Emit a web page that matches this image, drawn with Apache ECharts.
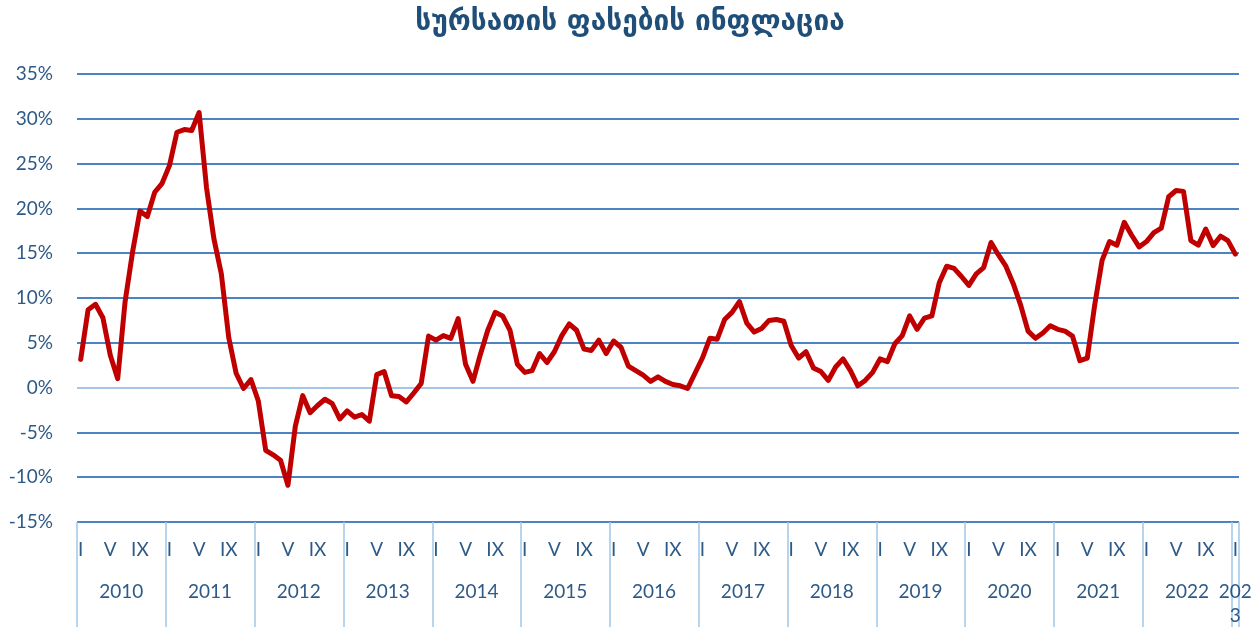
<!DOCTYPE html>
<html>
<head>
<meta charset="utf-8">
<title>სურსათის ფასების ინფლაცია</title>
<script src="https://cdn.jsdelivr.net/npm/echarts@6/dist/echarts.min.js"></script>
<style>
  html, body { margin: 0; padding: 0; background: #fff; }
  #chart { width: 1260px; height: 628px; }
</style>
</head>
<body>
<div id="chart"></div>
<script>
// year blocks on the category axis (2023 has only January)
const years = [2010, 2011, 2012, 2013, 2014, 2015, 2016, 2017, 2018, 2019, 2020, 2021, 2022, 2023];
// month tick labels shown inside each year (roman numerals, others left blank)
const monthTicks = ['I', '', '', '', 'V', '', '', '', 'IX', '', '', ''];

// food price inflation, y/y %, Jan 2010 .. Jan 2023
const inflation = [
  3.15, 8.7, 9.3, 7.8, 3.6, 1.0, 9.6, 15.1, 19.7, 19.1, 21.8, 22.8,
  24.8, 28.5, 28.8, 28.7, 30.7, 22.3, 16.6, 12.7, 5.6, 1.6, -0.1, 0.9,
  -1.5, -7.0, -7.5, -8.1, -10.9, -4.3, -0.9, -2.8, -2.0, -1.3, -1.8, -3.5,
  -2.6, -3.3, -3.0, -3.75, 1.45, 1.8, -0.9, -1.0, -1.6, -0.6, 0.45, 5.75,
  5.3, 5.8, 5.5, 7.7, 2.6, 0.7, 3.7, 6.4, 8.4, 8.0, 6.4, 2.6,
  1.7, 1.9, 3.8, 2.8, 4.0, 5.8, 7.1, 6.4, 4.3, 4.15, 5.3, 3.8,
  5.2, 4.5, 2.4, 1.9, 1.4, 0.7, 1.2, 0.7, 0.35, 0.2, -0.1, 1.6,
  3.3, 5.5, 5.4, 7.6, 8.4, 9.6, 7.2, 6.2, 6.6, 7.5, 7.6, 7.4,
  4.7, 3.3, 4.0, 2.2, 1.8, 0.8, 2.3, 3.2, 1.9, 0.2, 0.8, 1.7,
  3.2, 2.9, 4.9, 5.8, 8.0, 6.5, 7.75, 8.0, 11.7, 13.55, 13.3, 12.4,
  11.4, 12.7, 13.4, 16.2, 14.8, 13.55, 11.6, 9.2, 6.3, 5.5, 6.1, 6.9,
  6.5, 6.3, 5.75, 3.0, 3.3, 9.2, 14.2, 16.3, 15.9, 18.45, 17.0, 15.7,
  16.3, 17.3, 17.8, 21.3, 22.0, 21.9, 16.4, 15.9, 17.7, 15.85, 16.9, 16.4,
  14.9
];

const categories = [];
const yearOf = [];
inflation.forEach(function (v, i) {
  categories.push(years[0] + '-' + (i % 12 + 1));
  yearOf.push(years[Math.floor(i / 12)]);
});

const labelColor = '#2e5a87';
const gridBlue = '#4a84c4';
const lightBlue = '#a3c6e8';
const font = 'Lato, "Open Sans", sans-serif';

// zero line is drawn lighter than the others
const splitColors = [];
for (let v = -15; v <= 35; v += 5) splitColors.push(v === 0 ? lightBlue : gridBlue);

const chart = echarts.init(document.getElementById('chart'), null, { renderer: 'canvas' });
chart.setOption({
  animation: false,
  title: {
    text: 'სურსათის ფასების ინფლაცია',
    left: 'center',
    top: 4,
    textStyle: { fontFamily: '"DejaVu Sans", sans-serif', fontSize: 28, fontWeight: 'bold', color: '#1f4e79' }
  },
  grid: { left: 77, right: 21, top: 74, bottom: 105, containLabel: false },
  xAxis: [
    {
      type: 'category',
      data: categories,
      boundaryGap: true,
      position: 'bottom',
      axisLine: { show: false, onZero: false },
      axisTick: {
        show: true,
        interval: function (i) { return i % 12 === 0; },
        length: 105,
        lineStyle: { color: lightBlue, width: 1.5 }
      },
      axisLabel: {
        interval: 0,
        margin: 18,
        color: labelColor,
        fontFamily: font,
        fontSize: 19,
        formatter: function (v, i) { return monthTicks[i % 12]; }
      },
      splitLine: { show: false }
    },
    {
      type: 'category',
      data: categories,
      boundaryGap: true,
      position: 'bottom',
      axisLine: { show: false, onZero: false },
      axisTick: { show: false },
      axisLabel: {
        interval: 0,
        margin: 58,
        color: labelColor,
        fontFamily: font,
        fontSize: 19,
        lineHeight: 24,
        formatter: function (v, i) {
          if (i === inflation.length - 1 && i % 12 === 0) {
            const s = String(yearOf[i]);
            return '{last|' + s.slice(0, 3) + '\n' + s.slice(3) + '}';
          }
          return i % 12 === 5 ? '{y|' + yearOf[i] + '}' : '';
        },
        rich: {
          y: { padding: [0, 0, 0, 7], fontFamily: font, fontSize: 19, color: labelColor },
          last: { fontFamily: font, fontSize: 19, color: labelColor, lineHeight: 24 }
        }
      },
      splitLine: { show: false }
    }
  ],
  yAxis: {
    type: 'value',
    min: -15,
    max: 35,
    interval: 5,
    axisLine: { show: false },
    axisTick: { show: false },
    axisLabel: {
      margin: 24,
      color: labelColor,
      fontFamily: font,
      fontSize: 19,
      formatter: function (v) { return v + '%'; }
    },
    splitLine: { show: true, lineStyle: { color: splitColors, width: 2 } }
  },
  series: [
    {
      name: 'inflation',
      type: 'line',
      xAxisIndex: 0,
      data: inflation,
      symbol: 'none',
      smooth: false,
      lineStyle: { color: '#c00000', width: 5, join: 'round', cap: 'round' }
    }
  ]
});
</script>
</body>
</html>
